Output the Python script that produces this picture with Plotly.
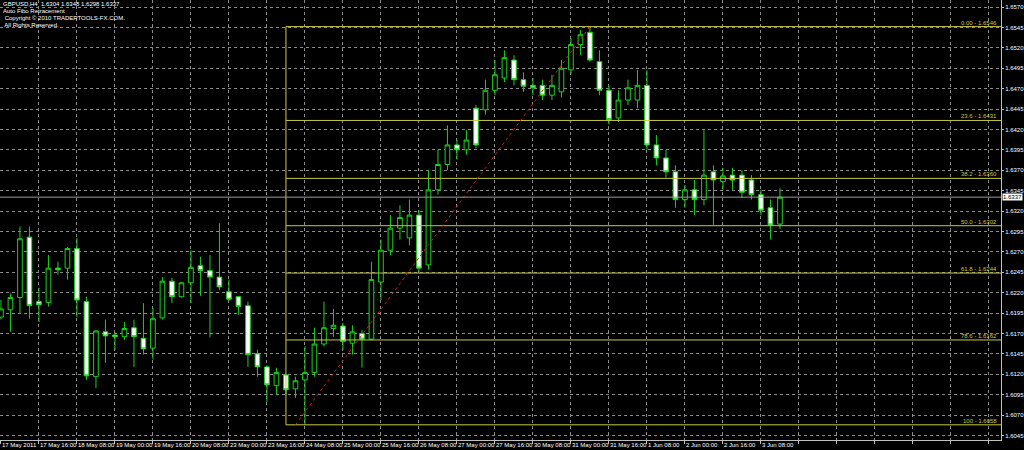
import plotly.graph_objects as go

# ---- data (GBPUSD H4, 17 May 2011 00:00 .. 3 Jun 2011 16:00, one bar per 4 hours) ----
bar_index = list(range(83))
open_ = [1.6190, 1.6199, 1.6214, 1.6288, 1.6209, 1.6208, 1.6250, 1.6250, 1.6274, 1.6209,
         1.6117, 1.6172, 1.6168, 1.6166, 1.6177, 1.6164, 1.6152, 1.6189, 1.6234, 1.6215,
         1.6232, 1.6253, 1.6247, 1.6239, 1.6221, 1.6215, 1.6204, 1.6145, 1.6129, 1.6106,
         1.6119, 1.6102, 1.6113, 1.6122, 1.6157, 1.6176, 1.6179, 1.6158, 1.6170, 1.6163,
         1.6233, 1.6272, 1.6299, 1.6287, 1.6315, 1.6254, 1.6346, 1.6377, 1.6401, 1.6395,
         1.6446, 1.6444, 1.6468, 1.6483, 1.6505, 1.6481, 1.6474, 1.6474, 1.6462, 1.6466,
         1.6493, 1.6524, 1.6539, 1.6503, 1.6468, 1.6434, 1.6456, 1.6456, 1.6474, 1.6401,
         1.6385, 1.6368, 1.6334, 1.6346, 1.6334, 1.6368, 1.6356, 1.6364, 1.6364, 1.6358,
         1.6340, 1.6324, 1.6304]
high = [1.6211, 1.6219, 1.6301, 1.6301, 1.6226, 1.6266, 1.6258, 1.6276, 1.6287, 1.6215,
        1.6174, 1.6187, 1.6171, 1.6184, 1.6187, 1.6207, 1.6201, 1.6239, 1.6238, 1.6233,
        1.6272, 1.6264, 1.6266, 1.6305, 1.6236, 1.6216, 1.6209, 1.6150, 1.6131, 1.6128,
        1.6120, 1.6117, 1.6154, 1.6177, 1.6209, 1.6200, 1.6183, 1.6180, 1.6174, 1.6258,
        1.6285, 1.6315, 1.6327, 1.6334, 1.6321, 1.6370, 1.6395, 1.6425, 1.6407, 1.6419,
        1.6450, 1.6481, 1.6505, 1.6517, 1.6511, 1.6490, 1.6483, 1.6481, 1.6487, 1.6505,
        1.6532, 1.6542, 1.6546, 1.6517, 1.6474, 1.6468, 1.6481, 1.6493, 1.6493, 1.6413,
        1.6395, 1.6376, 1.6352, 1.6358, 1.6419, 1.6376, 1.6373, 1.6373, 1.6370, 1.6364,
        1.6346, 1.6334, 1.6348]
low = [1.6187, 1.6172, 1.6195, 1.6188, 1.6184, 1.6203, 1.6242, 1.6236, 1.6190, 1.6113,
       1.6103, 1.6134, 1.6150, 1.6162, 1.6129, 1.6144, 1.6138, 1.6187, 1.6207, 1.6214,
       1.6207, 1.6216, 1.6165, 1.6223, 1.6209, 1.6193, 1.6129, 1.6117, 1.6086, 1.6095,
       1.6095, 1.6091, 1.6058, 1.6117, 1.6154, 1.6166, 1.6150, 1.6144, 1.6128, 1.6162,
       1.6211, 1.6266, 1.6285, 1.6278, 1.6245, 1.6248, 1.6340, 1.6370, 1.6383, 1.6389,
       1.6397, 1.6438, 1.6462, 1.6478, 1.6474, 1.6466, 1.6462, 1.6456, 1.6456, 1.6459,
       1.6487, 1.6511, 1.6503, 1.6462, 1.6426, 1.6429, 1.6450, 1.6446, 1.6395, 1.6376,
       1.6361, 1.6324, 1.6324, 1.6315, 1.6327, 1.6303, 1.6346, 1.6346, 1.6336, 1.6334,
       1.6315, 1.6285, 1.6298]
close = [1.6200, 1.6214, 1.6286, 1.6204, 1.6205, 1.6250, 1.6248, 1.6274, 1.6211, 1.6118,
         1.6173, 1.6167, 1.6166, 1.6176, 1.6166, 1.6151, 1.6188, 1.6234, 1.6215, 1.6232,
         1.6251, 1.6247, 1.6239, 1.6227, 1.6212, 1.6203, 1.6144, 1.6129, 1.6107, 1.6122,
         1.6101, 1.6112, 1.6122, 1.6157, 1.6177, 1.6180, 1.6160, 1.6172, 1.6163, 1.6236,
         1.6272, 1.6299, 1.6312, 1.6315, 1.6250, 1.6346, 1.6377, 1.6401, 1.6395, 1.6407,
         1.6401, 1.6468, 1.6487, 1.6508, 1.6481, 1.6473, 1.6471, 1.6462, 1.6474, 1.6495,
         1.6524, 1.6536, 1.6505, 1.6468, 1.6432, 1.6456, 1.6471, 1.6474, 1.6401, 1.6385,
         1.6368, 1.6334, 1.6346, 1.6334, 1.6364, 1.6358, 1.6363, 1.6358, 1.6343, 1.6340,
         1.6321, 1.6303, 1.6337]

time_tick_bars = [0, 4, 8, 12, 16, 20, 24, 28, 32, 36, 40, 44, 48, 52, 56, 60, 64, 68, 72, 76, 80]
time_tick_labels = ["17 May 2011", "17 May 16:00", "18 May 08:00", "19 May 00:00", "19 May 16:00",
                    "20 May 08:00", "23 May 00:00", "23 May 16:00", "24 May 08:00", "25 May 00:00",
                    "25 May 16:00", "26 May 08:00", "27 May 00:00", "27 May 16:00", "30 May 08:00",
                    "31 May 00:00", "31 May 16:00", "1 Jun 08:00", "2 Jun 00:00", "2 Jun 16:00",
                    "3 Jun 08:00"]
grid_bars = list(range(0, 105, 4))
price_ticks = [1.6045, 1.6070, 1.6095, 1.6120, 1.6145, 1.6170, 1.6195, 1.6220, 1.6245, 1.6270,
               1.6295, 1.6320, 1.6345, 1.6370, 1.6395, 1.6420, 1.6445, 1.6470, 1.6495, 1.6520,
               1.6545, 1.6570]

fib_ratios = ["0.00", "23.6", "38.2", "50.0", "61.8", "78.6", "100"]
fib_prices = [1.6546, 1.6431, 1.6360, 1.6302, 1.6244, 1.6162, 1.6058]
fib_start_bar = 30
swing_low_bar, swing_low = 31, 1.6058
swing_high_bar, swing_high = 62, 1.6546
last_price = 1.6337

header_lines = ["GBPUSD,H4  1.6304 1.6348 1.6298 1.6337",
                "Auto Fibo Retracement",
                " Copyright \u00a9 2010 TRADERTOOLS-FX.COM.",
                " All Rights Reserved."]

# ---- styling ----
X_RANGE = [-0.1, 105.27]
Y_RANGE = [1.60394, 1.65786]
GREEN = "#19d219"
FIB = "#c8c846"
GRID = "#8a8a8a"
FONT = "Liberation Sans"

fig = go.Figure()
fig.add_trace(go.Candlestick(
    x=bar_index, open=open_, high=high, low=low, close=close,
    increasing=dict(line=dict(color=GREEN, width=1), fillcolor="#000000"),
    decreasing=dict(line=dict(color=GREEN, width=1), fillcolor="#ffffff"),
    whiskerwidth=0, showlegend=False, hoverinfo="skip"))

shapes = []
for p in fib_prices:
    shapes.append(dict(type="line", xref="x", yref="y", x0=fib_start_bar, x1=X_RANGE[1],
                       y0=p, y1=p, line=dict(color=FIB, width=1)))
shapes.append(dict(type="line", xref="x", yref="y", x0=fib_start_bar, x1=fib_start_bar,
                   y0=fib_prices[-1], y1=fib_prices[0], line=dict(color=FIB, width=1)))
shapes.append(dict(type="line", xref="x", yref="y", x0=swing_low_bar, y0=swing_low,
                   x1=swing_high_bar, y1=swing_high, line=dict(color="#d01818", width=1, dash="dot")))
shapes.append(dict(type="line", xref="paper", yref="y", x0=0, x1=1, y0=last_price, y1=last_price,
                   line=dict(color="#9a9a9a", width=1)))

annotations = []
for i, lab in zip(time_tick_bars, time_tick_labels):
    annotations.append(dict(x=i, y=0, xref="x", yref="paper", text=lab, showarrow=False,
                            xanchor="left", yanchor="top", xshift=-1, yshift=0,
                            font=dict(color="#ffffff", size=6, family=FONT)))
for r, p in zip(fib_ratios, fib_prices):
    annotations.append(dict(x=1, y=p, xref="paper", yref="y", text=f"{r} - {p:.4f}",
                            showarrow=False, xanchor="right", yanchor="bottom", xshift=-2, yshift=-1,
                            font=dict(color=FIB, size=6, family=FONT)))
for k, line in enumerate(header_lines):
    annotations.append(dict(x=0, y=1, xref="paper", yref="paper", text=line, showarrow=False,
                            xanchor="left", yanchor="top", xshift=1, yshift=1 - 7 * k,
                            font=dict(color="#ffffff", size=6, family=FONT)))
annotations.append(dict(x=1, y=last_price, xref="paper", yref="y", text=f"{last_price:.4f}",
                        showarrow=False, xanchor="left", yanchor="middle", xshift=1,
                        bgcolor="#ffffff", borderpad=0,
                        font=dict(color="#000000", size=6, family=FONT)))

fig.update_layout(
    width=1024, height=450,
    margin=dict(l=0, r=23, t=0, b=10, autoexpand=False),
    paper_bgcolor="#000000", plot_bgcolor="#000000",
    shapes=shapes, annotations=annotations,
    showlegend=False,
    xaxis=dict(range=X_RANGE, rangeslider=dict(visible=False), tickmode="array",
               tickvals=grid_bars, ticktext=["" for _ in grid_bars], ticks="outside", ticklen=3,
               tickcolor="#c0c0c0", showgrid=True, gridcolor=GRID, griddash="dot", gridwidth=1,
               showline=True, linecolor="#c0c0c0", linewidth=1, zeroline=False, fixedrange=True),
    yaxis=dict(range=Y_RANGE, side="right", tickmode="array", tickvals=price_ticks,
               ticktext=[f"{v:.4f}" for v in price_ticks], ticks="outside", ticklen=2,
               tickcolor="#c0c0c0", tickfont=dict(color="#ffffff", size=6, family=FONT),
               showgrid=True, gridcolor=GRID, griddash="dot", gridwidth=1,
               showline=True, linecolor="#c0c0c0", linewidth=1, zeroline=False, fixedrange=True),
)

fig.write_html("out.html", config={"displayModeBar": False},
               post_script="document.body.style.margin='0';document.body.style.overflow='hidden';")
